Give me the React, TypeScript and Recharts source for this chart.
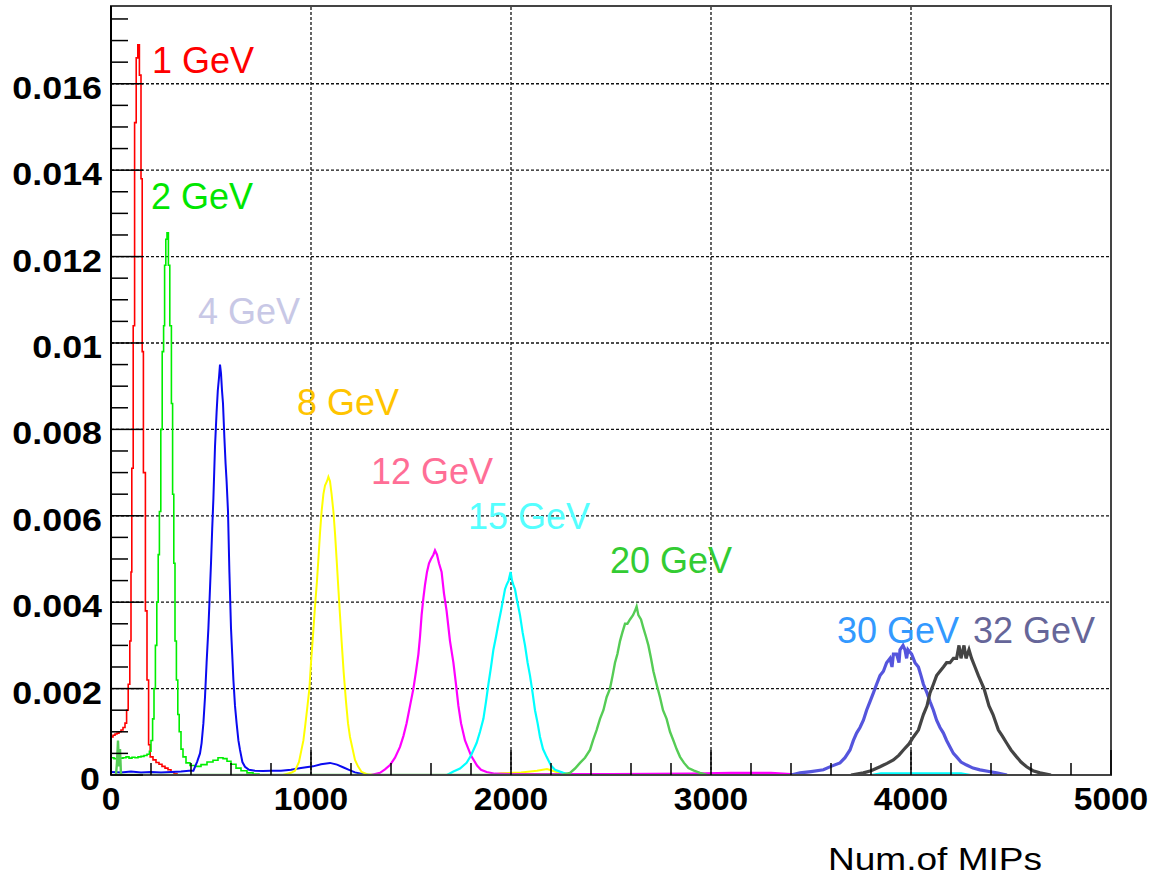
import React from 'react';
import {
  LineChart,
  Line,
  XAxis,
  YAxis,
  ReferenceLine,
  ReferenceArea,
  ReferenceDot,
} from 'recharts';

// Axis ticks (minor every 200 MIPs / 0.0005, labelled every 1000 / 0.002)
const xTicks = [
  0, 200, 400, 600, 800, 1000, 1200, 1400, 1600, 1800, 2000, 2200, 2400, 2600,
  2800, 3000, 3200, 3400, 3600, 3800, 4000, 4200, 4400, 4600, 4800, 5000,
];
const yTicks = [
  0, 0.0005, 0.001, 0.0015, 0.002, 0.0025, 0.003, 0.0035, 0.004, 0.0045, 0.005,
  0.0055, 0.006, 0.0065, 0.007, 0.0075, 0.008, 0.0085, 0.009, 0.0095, 0.01,
  0.0105, 0.011, 0.0115, 0.012, 0.0125, 0.013, 0.0135, 0.014, 0.0145, 0.015,
  0.0155, 0.016, 0.0165, 0.017, 0.0175,
];
const xGrid = [1000, 2000, 3000, 4000];
const yGrid = [0.002, 0.004, 0.006, 0.008, 0.01, 0.012, 0.014, 0.016];

// Normalised energy spectra, [number of MIPs, fraction]
const gev1: [number, number][] = [
  [0, 0.00088], [10, 0.00092], [20, 0.00095], [30, 0.00097], [40, 0.001],
  [50, 0.00104], [60, 0.0011], [70, 0.0012], [78, 0.0015], [86, 0.0021],
  [94, 0.0031], [100, 0.0047], [104, 0.0071], [111, 0.0104], [118, 0.0151],
  [126, 0.0166], [134, 0.0169], [142, 0.0162], [150, 0.0138], [156, 0.0098],
  [162, 0.007], [172, 0.0038], [180, 0.0022], [188, 0.0007], [196, 0.00042],
  [210, 0.00035], [225, 0.00029], [240, 0.00025], [255, 0.0002], [270, 0.00016],
  [285, 0.00012], [300, 0.00007], [315, 0.00003], [330, 0],
];
const gev2: [number, number][] = [
  [0, 0.0004], [15, 0.00038], [30, 0.00041], [45, 0.00039], [60, 0.0004],
  [75, 0.00042], [90, 0.00039], [105, 0.00041], [120, 0.0004], [135, 0.00042],
  [150, 0.00043], [165, 0.00045], [180, 0.00048], [192, 0.00055], [200, 0.0008],
  [208, 0.0013], [215, 0.002], [222, 0.003], [229, 0.004], [236, 0.0051],
  [242, 0.0061], [249, 0.008], [256, 0.0098], [263, 0.0104], [268, 0.0118],
  [274, 0.0124], [280, 0.01255], [287, 0.0118], [294, 0.0104], [302, 0.0086],
  [308, 0.0065], [314, 0.0049], [320, 0.0031], [327, 0.0022], [334, 0.0014],
  [341, 0.001], [350, 0.0006], [360, 0.00042], [375, 0.00028], [395, 0.00022],
  [420, 0.0002], [450, 0.00024], [480, 0.0003], [510, 0.00034], [535, 0.0004],
  [560, 0.00038], [580, 0.00032], [600, 0.00025], [625, 0.00016], [650, 0.0001],
  [680, 0.00005], [710, 0.00002], [740, 0],
];
const gev4: [number, number][] = [
  [0, 0.00007], [50, 0.00006], [100, 0.00008], [150, 0.00006], [200, 0.00007],
  [250, 0.00006], [300, 0.00007], [350, 0.00008], [390, 0.0001], [412, 0.0001],
  [430, 0.0003], [445, 0.0005], [453, 0.00074], [462, 0.0012], [470, 0.0018],
  [478, 0.0026], [487, 0.0034], [494, 0.0042], [500, 0.0049], [506, 0.0057],
  [512, 0.0064], [520, 0.0076], [528, 0.0084], [534, 0.0089], [540, 0.0092],
  [545, 0.0095], [550, 0.0093], [555, 0.0089], [560, 0.0086], [567, 0.0078],
  [573, 0.0072], [578, 0.0068], [585, 0.0061], [592, 0.0047], [600, 0.0034],
  [606, 0.0028], [612, 0.0022], [620, 0.0016], [628, 0.0012], [637, 0.0008],
  [645, 0.00058], [657, 0.0003], [670, 0.00019], [690, 0.00012], [720, 0.0001],
  [760, 0.00009], [800, 0.0001], [850, 0.0001], [900, 0.00012], [950, 0.00016],
  [1010, 0.0002], [1050, 0.00025], [1095, 0.00028], [1130, 0.00024],
  [1160, 0.00018], [1190, 0.00012], [1220, 0.00006], [1250, 0.00003], [1290, 0],
];
const gev8: [number, number][] = [
  [860, 0], [900, 0.00005], [920, 0.0001], [940, 0.0003], [953, 0.0006],
  [962, 0.0008], [970, 0.0011], [980, 0.0015], [992, 0.002], [1000, 0.0026],
  [1008, 0.0031], [1020, 0.0039], [1030, 0.0045], [1037, 0.005], [1045, 0.0056],
  [1053, 0.0061], [1062, 0.0065], [1070, 0.0067], [1080, 0.0068], [1087, 0.0069],
  [1095, 0.0068], [1103, 0.0065], [1112, 0.0061], [1120, 0.0056], [1128, 0.005],
  [1137, 0.0043], [1145, 0.0037], [1153, 0.0031], [1163, 0.0024], [1175, 0.0017],
  [1185, 0.0012], [1195, 0.00088], [1208, 0.0006], [1220, 0.00035], [1235, 0.0002],
  [1253, 0.00007], [1280, 0.00002], [1320, 0], [1900, 0], [1950, 0.00004],
  [2050, 0.00006], [2130, 0.0001], [2180, 0.00014], [2220, 0.00008],
  [2260, 0.00003], [2300, 0],
];
const gev12: [number, number][] = [
  [1300, 0], [1345, 0.00005], [1370, 0.00013], [1395, 0.00023], [1420, 0.0004],
  [1445, 0.00065], [1462, 0.0009], [1478, 0.0012], [1495, 0.0016], [1512, 0.002],
  [1525, 0.0024], [1537, 0.0028], [1545, 0.0032], [1553, 0.0037], [1562, 0.0041],
  [1570, 0.0044], [1580, 0.0047], [1590, 0.0049], [1600, 0.005], [1612, 0.0051],
  [1620, 0.0052], [1630, 0.0051], [1640, 0.0049], [1653, 0.0047], [1665, 0.0042],
  [1678, 0.0038], [1695, 0.0031], [1712, 0.0026], [1725, 0.0021], [1737, 0.0016],
  [1750, 0.0012], [1770, 0.0008], [1800, 0.00045], [1830, 0.00022],
  [1850, 0.00012], [1878, 0.00007], [1920, 0.00003], [2000, 0.00002],
  [2500, 0.00002], [2900, 0.00003], [3100, 0.00005], [3300, 0.00005],
  [3400, 0.00002], [3500, 0],
];
const gev15: [number, number][] = [
  [1680, 0], [1712, 0.00008], [1745, 0.00015], [1778, 0.00028], [1800, 0.00045],
  [1828, 0.00074], [1845, 0.001], [1862, 0.0013], [1875, 0.0017], [1887, 0.0021],
  [1900, 0.0025], [1912, 0.0029], [1925, 0.0032], [1937, 0.0035], [1950, 0.0038],
  [1962, 0.0041], [1970, 0.0043], [1978, 0.0044], [1988, 0.0045], [1998, 0.0047],
  [2005, 0.0045], [2012, 0.0044], [2020, 0.0043], [2032, 0.004], [2045, 0.0037],
  [2058, 0.0033], [2070, 0.003], [2083, 0.0026], [2095, 0.0023], [2108, 0.0019],
  [2120, 0.0015], [2133, 0.0012], [2145, 0.00088], [2160, 0.0006], [2178, 0.00042],
  [2200, 0.00022], [2220, 0.00012], [2262, 0.00005], [2300, 0], [3800, 0],
  [3850, 0.00004], [4250, 0.00004], [4300, 0],
];
const gev20: [number, number][] = [
  [25, 0], [30, 0.0003], [35, 0.0008], [40, 0.0002], [45, 0.0006], [50, 0],
  [2250, 0], [2295, 0.00005], [2320, 0.00015], [2345, 0.00028], [2370, 0.0004],
  [2395, 0.00058], [2410, 0.0008], [2428, 0.00104], [2445, 0.0013], [2462, 0.0015],
  [2478, 0.0018], [2495, 0.002], [2508, 0.0023], [2520, 0.0026], [2532, 0.0028],
  [2545, 0.0031], [2557, 0.0033], [2570, 0.0035], [2582, 0.0035], [2595, 0.0036],
  [2610, 0.0037], [2620, 0.0038], [2628, 0.0039], [2637, 0.0037], [2650, 0.0036],
  [2662, 0.0034], [2675, 0.0032], [2687, 0.003], [2700, 0.0027], [2712, 0.0024],
  [2728, 0.0021], [2745, 0.0018], [2760, 0.0015], [2778, 0.0013], [2795, 0.001],
  [2812, 0.0008], [2828, 0.0006], [2845, 0.00042], [2865, 0.00028],
  [2887, 0.00016], [2915, 0.0001], [2945, 0.00005], [2980, 0],
];
const gev30: [number, number][] = [
  [3400, 0], [3445, 0.00005], [3500, 0.00008], [3562, 0.00012], [3600, 0.0002],
  [3645, 0.00028], [3670, 0.0004], [3695, 0.00058], [3712, 0.0008],
  [3728, 0.00097], [3745, 0.0011], [3762, 0.00127], [3778, 0.0015], [3795, 0.0017],
  [3812, 0.0019], [3828, 0.0021], [3845, 0.0023], [3862, 0.0024], [3878, 0.0026],
  [3895, 0.0027], [3905, 0.0025], [3912, 0.0028], [3928, 0.0028], [3940, 0.0026],
  [3945, 0.0029], [3960, 0.003], [3970, 0.0029], [3978, 0.0027], [3985, 0.0029],
  [4003, 0.0028], [4020, 0.0026], [4037, 0.0025], [4050, 0.0023], [4062, 0.0021],
  [4080, 0.0019], [4095, 0.0017], [4112, 0.0015], [4128, 0.00127], [4145, 0.0011],
  [4162, 0.00097], [4178, 0.0008], [4195, 0.00065], [4212, 0.0005],
  [4228, 0.00042], [4250, 0.0003], [4278, 0.00023], [4310, 0.00016],
  [4345, 0.00012], [4390, 0.00008], [4428, 0.00005], [4480, 0],
];
const gev32: [number, number][] = [
  [3700, 0], [3762, 0.00005], [3800, 0.0001], [3845, 0.00019], [3880, 0.00027],
  [3912, 0.00035], [3940, 0.00046], [3962, 0.00058], [3990, 0.00072],
  [4012, 0.00088], [4037, 0.00104], [4062, 0.0014], [4080, 0.0016], [4095, 0.0019],
  [4112, 0.0021], [4128, 0.0023], [4145, 0.0024], [4162, 0.0025], [4178, 0.0026],
  [4195, 0.0026], [4212, 0.0027], [4228, 0.0027], [4240, 0.003], [4250, 0.0027],
  [4265, 0.003], [4275, 0.0027], [4290, 0.0029], [4303, 0.0027], [4320, 0.0025],
  [4337, 0.0023], [4365, 0.002], [4390, 0.0016], [4410, 0.0014], [4437, 0.00104],
  [4457, 0.0009], [4478, 0.00074], [4500, 0.00058], [4528, 0.00042],
  [4550, 0.0003], [4578, 0.00019], [4610, 0.0001], [4645, 0.00005], [4700, 0],
];

type Curve = {
  points: [number, number][];
  color: string;
  step: boolean;
  width: number;
};

const curves: Curve[] = [
  { points: gev1, color: '#ff0000', step: true, width: 1.6 },
  { points: gev2, color: '#00ee00', step: true, width: 1.6 },
  { points: gev4, color: '#0a0af0', step: false, width: 2 },
  { points: gev8, color: '#ffff00', step: false, width: 2 },
  { points: gev12, color: '#ff00ff', step: false, width: 2.2 },
  { points: gev15, color: '#00ffff', step: false, width: 2.2 },
  { points: gev20, color: '#55cc55', step: false, width: 2.4 },
  { points: gev30, color: '#5555dd', step: false, width: 3.2 },
  { points: gev32, color: '#444444', step: false, width: 3.2 },
];

// Energy captions: text, colour and anchor (start of baseline) in axis units
const captionText = ['1 GeV', '2 GeV', '4 GeV', '8 GeV', '12 GeV', '15 GeV', '20 GeV', '30 GeV', '32 GeV'];
const captionColor = ['#ff0000', '#00e600', '#c8c8e6', '#ffc400', '#ff6e96', '#55ffff', '#33cc33', '#3399ff', '#666699'];
const captionAnchor: [number, number][] = [
  [205, 0.01625], [200, 0.0131], [435, 0.01044], [930, 0.00833],
  [1300, 0.00674], [1785, 0.0057], [2495, 0.00468], [3630, 0.00306], [4310, 0.00306],
];

const FONT = "'Liberation Sans', Arial, Helvetica, sans-serif";

const toRows = (pts: [number, number][]) => pts.map(([v, y]) => ({ v, y }));

const XTick = (props: any) => {
  const { x, y, payload } = props;
  const v: number = payload.value;
  const major = v % 1000 === 0;
  return (
    <g>
      <line x1={x} x2={x} y1={y} y2={y - (major ? 25 : 12)} stroke="#000" strokeWidth={1.5} />
      {major && (
        <text
          transform={`translate(${x},${y + 35}) scale(1.08,1)`}
          textAnchor="middle"
          fontFamily={FONT}
          fontWeight="bold"
          fontSize={31}
          fill="#000"
        >
          {v}
        </text>
      )}
    </g>
  );
};

const YTick = (props: any) => {
  const { x, y, payload } = props;
  const v: number = payload.value;
  const k = v / 0.002;
  const major = Math.abs(k - Math.round(k)) < 1e-6;
  const label = v === 0 ? '0' : String(parseFloat(v.toFixed(3)));
  return (
    <g>
      <line x1={x} x2={x + (major ? 32 : 17)} y1={y} y2={y} stroke="#000" strokeWidth={1.5} />
      {major && (
        <text
          transform={`translate(${x - (v === 0 ? 11 : 9)},${y + 15}) scale(1.12,1)`}
          textAnchor="end"
          fontFamily={FONT}
          fontWeight="bold"
          fontSize={32}
          fill="#000"
        >
          {label}
        </text>
      )}
    </g>
  );
};

const AxisTitle = (props: any) => {
  const vb = props.viewBox || { x: 111, y: 775, width: 1000, height: 104 };
  return (
    <text
      x={vb.x + vb.width - 283}
      y={vb.y + 95}
      textLength={214}
      lengthAdjust="spacingAndGlyphs"
      fontFamily={FONT}
      fontSize={32}
      fill="#000"
    >
      Num.of MIPs
    </text>
  );
};

export default function App() {
  return (
    <div style={{ position: 'absolute', left: 0, top: 0, background: '#fff' }}>
      <LineChart
        width={1153}
        height={879}
        margin={{ top: 6, right: 42, bottom: 0, left: 0 }}
      >
        <XAxis
          dataKey="v"
          type="number"
          domain={[0, 5000]}
          ticks={xTicks}
          interval={0}
          allowDataOverflow
          height={104}
          tickSize={0}
          tickMargin={0}
          tickLine={false}
          tick={<XTick />}
          axisLine={{ stroke: '#444', strokeWidth: 2 }}
          label={{ content: <AxisTitle /> }}
        />
        <YAxis
          type="number"
          domain={[0, 0.0178]}
          ticks={yTicks}
          interval={0}
          allowDataOverflow
          width={111}
          tickSize={0}
          tickMargin={0}
          tickLine={false}
          tick={<YTick />}
          axisLine={{ stroke: '#000', strokeWidth: 2 }}
        />
        {yGrid.map((g) => (
          <ReferenceLine key={`h${g}`} y={g} stroke="#111" strokeWidth={1.3} strokeDasharray="3 2" />
        ))}
        {xGrid.map((g) => (
          <ReferenceLine key={`v${g}`} x={g} stroke="#111" strokeWidth={1.3} strokeDasharray="3 2" />
        ))}
        <ReferenceArea x1={0} x2={5000} y1={0} y2={0.0178} fill="none" stroke="#444" strokeWidth={2} />
        {curves.map((c, i) => (
          <Line
            key={i}
            data={toRows(c.points)}
            dataKey="y"
            type={c.step ? 'stepAfter' : 'linear'}
            stroke={c.color}
            strokeWidth={c.width}
            dot={false}
            activeDot={false}
            isAnimationActive={false}
          />
        ))}
        {captionText.map((t, i) => (
          <ReferenceDot
            key={t}
            x={captionAnchor[i][0]}
            y={captionAnchor[i][1]}
            r={0}
            shape={(p: any) => (
              <text x={p.cx} y={p.cy} fontFamily={FONT} fontSize={36} fill={captionColor[i]}>
                {t}
              </text>
            )}
          />
        ))}
      </LineChart>
    </div>
  );
}
